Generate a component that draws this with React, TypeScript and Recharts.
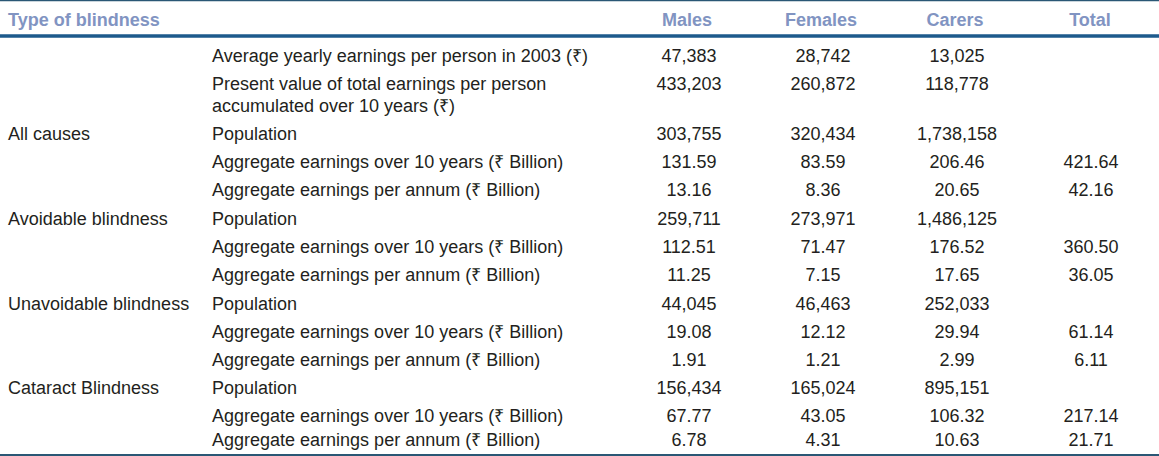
import React from "react";
import { ScatterChart, Scatter, XAxis, YAxis, ReferenceLine } from "recharts";

const W = 1159;
const H = 456;

const headers = ["Type of blindness", "", "Males", "Females", "Carers", "Total"];

const groupLabels = [
  "", "", "All causes", "", "",
  "Avoidable blindness", "", "",
  "Unavoidable blindness", "", "",
  "Cataract Blindness", "", "",
];

const metrics = [
  "Average yearly earnings per person in 2003 (₹)",
  "Present value of total earnings per person\naccumulated over 10 years (₹)",
  "Population",
  "Aggregate earnings over 10 years (₹ Billion)",
  "Aggregate earnings per annum (₹ Billion)",
  "Population",
  "Aggregate earnings over 10 years (₹ Billion)",
  "Aggregate earnings per annum (₹ Billion)",
  "Population",
  "Aggregate earnings over 10 years (₹ Billion)",
  "Aggregate earnings per annum (₹ Billion)",
  "Population",
  "Aggregate earnings over 10 years (₹ Billion)",
  "Aggregate earnings per annum (₹ Billion)",
];

const males = ["47,383", "433,203", "303,755", "131.59", "13.16", "259,711", "112.51", "11.25", "44,045", "19.08", "1.91", "156,434", "67.77", "6.78"];
const females = ["28,742", "260,872", "320,434", "83.59", "8.36", "273,971", "71.47", "7.15", "46,463", "12.12", "1.21", "165,024", "43.05", "4.31"];
const carers = ["13,025", "118,778", "1,738,158", "206.46", "20.65", "1,486,125", "176.52", "17.65", "252,033", "29.94", "2.99", "895,151", "106.32", "10.63"];
const totals = ["", "", "", "421.64", "42.16", "", "360.50", "36.05", "", "61.14", "6.11", "", "217.14", "21.71"];

// layout (pixels in the chart's own coordinate space)
const HEADER_Y = 20;
const ROW_Y = [56, 84, 134, 162, 190, 219, 247, 275, 304, 332, 360, 388, 416, 440];
const COL_X = [8, 212, 689, 823, 957, 1091];
const HEADER_X = [8, 212, 687, 821, 955, 1090];
const LINE_GAP = 22;

const FONT = "'Liberation Sans', Arial, Helvetica, sans-serif";

type Cell = { x: number; y: number; text: string; anchor: string; header?: boolean };

const cells: Cell[] = [];
headers.forEach((h, c) => {
  if (!h) return;
  cells.push({ x: HEADER_X[c], y: HEADER_Y, text: h, anchor: c < 2 ? "start" : "middle", header: true });
});
const cols = [groupLabels, metrics, males, females, carers, totals];
ROW_Y.forEach((y, r) => {
  cols.forEach((col, c) => {
    const t = col[r];
    if (!t) return;
    cells.push({ x: COL_X[c], y, text: t, anchor: c < 2 ? "start" : "middle" });
  });
});

/* eslint-disable @typescript-eslint/no-explicit-any */
function CellText(props: any) {
  const { cx, cy, payload } = props;
  const lines = String(payload.text).split("\n");
  return (
    <text
      x={cx}
      y={cy}
      textAnchor={payload.anchor}
      dominantBaseline="central"
      fontFamily={FONT}
      fontSize={18}
      fontWeight={payload.header ? "bold" : "normal"}
      fill={payload.header ? "#8194c2" : "#231f20"}
    >
      {lines.map((l, i) => (
        <tspan key={i} x={cx} dy={i === 0 ? 0 : LINE_GAP}>
          {l}
        </tspan>
      ))}
    </text>
  );
}

export default function App() {
  return (
    <div style={{ position: "absolute", left: 0, top: 0, width: W, height: H, background: "#fff" }}>
      <ScatterChart width={W} height={H} margin={{ top: 0, right: 0, bottom: 0, left: 0 }}>
        <XAxis type="number" dataKey="x" domain={[0, W]} hide />
        <YAxis type="number" dataKey="y" domain={[0, H]} reversed hide />
        <ReferenceLine y={0.5} stroke="#2a5775" strokeWidth={1.5} ifOverflow="visible" />
        <ReferenceLine y={36} stroke="#1d5a8c" strokeWidth={3.5} />
        <ReferenceLine y={455} stroke="#2a5775" strokeWidth={2} ifOverflow="visible" />
        <Scatter data={cells} shape={<CellText />} isAnimationActive={false} />
      </ScatterChart>
    </div>
  );
}
